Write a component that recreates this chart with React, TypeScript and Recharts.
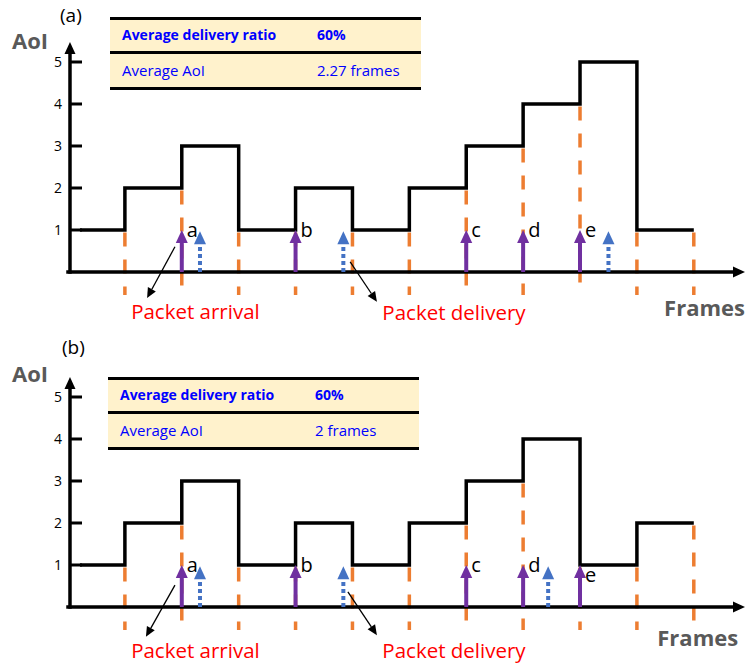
import React from 'react';
import { ComposedChart, Line, XAxis, YAxis, ReferenceLine, ReferenceDot } from 'recharts';

// time axis in frames, AoI per frame
const frameStarts = [0.21, 1, 2, 3, 4, 5, 6, 7, 8, 9, 10];
const frameEnd = 11;
const aoiA = [1, 2, 3, 1, 2, 1, 2, 3, 4, 5, 1];
const aoiB = [1, 2, 3, 1, 2, 1, 2, 3, 4, 1, 2];
const yTicks = [1, 2, 3, 4, 5];
const arrivals = [2, 4, 7, 8, 9];
const arrivalNames = ['a', 'b', 'c', 'd', 'e'];
const deliveriesA = [2.32, 4.84, 9.5];
const deliveriesB = [2.32, 4.84, 8.44];
const tableRows = ['Average delivery ratio', 'Average AoI'];
const tableValsA = ['60%', '2.27 frames'];
const tableValsB = ['60%', '2 frames'];

const W = 745;
const H = 331;
const X_DOMAIN: [number, number] = [0, 11.9];
const Y_DOMAIN: [number, number] = [-1.405, 6.476];
const ORANGE = '#ED7D31';
const PURPLE = '#7030A0';
const BLUE = '#4472C4';
const GREY = '#595959';
const FONT = '"Open Sans", sans-serif';

function YTick(props: any) {
  const { x, y, payload } = props;
  return (
    <g>
      <line x1={x + 7} y1={y} x2={x + 19} y2={y} stroke="#000" strokeWidth={3} />
      <text x={x - 1} y={y} textAnchor="end" dominantBaseline="central" fontSize={14} fontFamily={FONT} fill="#000">
        {payload.value}
      </text>
    </g>
  );
}

function AxisArrow(props: any) {
  const { x1, y1, x2, y2 } = props;
  const ang = Math.atan2(y2 - y1, x2 - x1);
  const len = 12;
  const half = 5.5;
  const bx = x2 - len * Math.cos(ang);
  const by = y2 - len * Math.sin(ang);
  const px = -Math.sin(ang) * half;
  const py = Math.cos(ang) * half;
  return (
    <g>
      <line x1={x1} y1={y1} x2={bx} y2={by} stroke="#000" strokeWidth={3.5} strokeLinecap="square" />
      <polygon points={`${x2},${y2} ${bx + px},${by + py} ${bx - px},${by - py}`} fill="#000" />
    </g>
  );
}

function ThinArrow(props: any) {
  const { x1, y1, x2, y2 } = props;
  const ang = Math.atan2(y2 - y1, x2 - x1);
  const len = 10;
  const half = 4.5;
  const bx = x2 - len * Math.cos(ang);
  const by = y2 - len * Math.sin(ang);
  const px = -Math.sin(ang) * half;
  const py = Math.cos(ang) * half;
  return (
    <g>
      <line x1={x1} y1={y1} x2={bx} y2={by} stroke="#000" strokeWidth={1.3} />
      <polygon points={`${x2},${y2} ${bx + px},${by + py} ${bx - px},${by - py}`} fill="#000" />
    </g>
  );
}

function UpArrow(props: any) {
  const { x1, y1, y2, color, dotted, label, labelDrop } = props;
  const base = Math.max(y1, y2);
  const tip = Math.min(y1, y2);
  const head = 13;
  const half = 6;
  return (
    <g>
      <line
        x1={x1}
        y1={base}
        x2={x1}
        y2={tip + head - 1}
        stroke={color}
        strokeWidth={4}
        strokeDasharray={dotted ? '4 3' : undefined}
      />
      <polygon points={`${x1},${tip} ${x1 - half},${tip + head} ${x1 + half},${tip + head}`} fill={color} />
      {label ? (
        <text x={x1 + 5} y={tip + 7 + (labelDrop || 0)} fontSize={20} fontFamily={FONT} fill="#000">
          {label}
        </text>
      ) : null}
    </g>
  );
}

function Note({ text, color, size, weight, anchor }: any) {
  return (p: any) => (
    <text
      x={p.cx}
      y={p.cy}
      textAnchor={anchor || 'middle'}
      dominantBaseline="central"
      fontSize={size}
      fontWeight={weight || 400}
      fontFamily={FONT}
      fill={color}
    >
      {text}
    </text>
  );
}

function Table({ left, top, values }: any) {
  const lines = [top, top + 34, top + 70];
  return (
    <div style={{ position: 'absolute', left, top: 0, width: 311, height: H, pointerEvents: 'none' }}>
      <div style={{ position: 'absolute', left: 0, top, width: 311, height: 70, background: '#FFF2CC' }} />
      {lines.map((ly) => (
        <div key={ly} style={{ position: 'absolute', left: 0, top: ly - 1.5, width: 311, height: 3, background: '#000' }} />
      ))}
      {tableRows.map((r, i) => {
        const cy = i === 0 ? top + 17 : top + 52;
        const bold = i === 0;
        const fs = bold ? 14 : 15;
        return (
          <React.Fragment key={r}>
            <div style={{ position: 'absolute', left: 12, top: cy - 10, height: 20, lineHeight: '20px', fontSize: fs, fontWeight: bold ? 700 : 400, color: '#0000FF', whiteSpace: 'nowrap' }}>
              {r}
            </div>
            <div style={{ position: 'absolute', left: 207, top: cy - 10, height: 20, lineHeight: '20px', fontSize: fs, fontWeight: bold ? 700 : 400, color: '#0000FF', whiteSpace: 'nowrap' }}>
              {values[i]}
            </div>
          </React.Fragment>
        );
      })}
    </div>
  );
}

function Panel({ aoi, deliveries, tag, values, tagPos, aoiY, tableLeft, tableTop, notes, framesPos, lowLabel }: any) {
  const steps = [...frameStarts.map((x, i) => ({ x, y: aoi[i] })), { x: frameEnd, y: aoi[aoi.length - 1] }];
  // dashed frame boundaries start just under the lower side of each step
  const edges = [...frameStarts.slice(1), frameEnd].map((x, i) => ({
    x,
    top: Math.min(aoi[i], aoi[i + 1] ?? aoi[i]) - 0.06,
  }));

  return (
    <div style={{ position: 'relative', width: W, height: H }}>
      <ComposedChart width={W} height={H} margin={{ top: 0, right: 0, bottom: 0, left: 0 }}>
        <XAxis type="number" dataKey="x" domain={X_DOMAIN} hide allowDataOverflow />
        <YAxis
          type="number"
          domain={Y_DOMAIN}
          ticks={yTicks}
          interval={0}
          width={68}
          axisLine={false}
          tickLine={false}
          tickSize={0}
          tickMargin={5}
          tick={<YTick />}
          allowDataOverflow
        />
        {edges.map((e) => (
          <ReferenceLine
            key={`edge-${e.x}`}
            segment={[{ x: e.x, y: e.top }, { x: e.x, y: -0.55 }]}
            stroke={ORANGE}
            strokeWidth={3.5}
            strokeDasharray="14 13"
            ifOverflow="visible"
          />
        ))}
        <Line
          data={steps}
          dataKey="y"
          type="stepAfter"
          stroke="#000"
          strokeWidth={3.5}
          strokeLinejoin="miter"
          dot={false}
          isAnimationActive={false}
        />
        <ReferenceLine segment={[{ x: 0, y: 0 }, { x: 11.9, y: 0 }]} ifOverflow="visible" shape={(p: any) => <AxisArrow {...p} />} />
        <ReferenceLine segment={[{ x: 0.035, y: 0 }, { x: 0.035, y: 5.476 }]} ifOverflow="visible" shape={(p: any) => <AxisArrow {...p} />} />
        {arrivals.map((x, i) => (
          <ReferenceLine
            key={`arr-${x}`}
            segment={[{ x, y: 0 }, { x, y: 1 }]}
            ifOverflow="visible"
            shape={(p: any) => (
              <UpArrow {...p} color={PURPLE} label={arrivalNames[i]} labelDrop={i === lowLabel ? 10 : 0} />
            )}
          />
        ))}
        {deliveries.map((x: number) => (
          <ReferenceLine
            key={`del-${x}`}
            segment={[{ x, y: 0 }, { x, y: 0.97 }]}
            ifOverflow="visible"
            shape={(p: any) => <UpArrow {...p} color={BLUE} dotted />}
          />
        ))}
        {notes.map((n: any) => (
          <ReferenceLine
            key={n.text}
            segment={[{ x: n.from[0], y: n.from[1] }, { x: n.to[0], y: n.to[1] }]}
            ifOverflow="visible"
            shape={(p: any) => <ThinArrow {...p} />}
          />
        ))}
        {notes.map((n: any) => (
          <ReferenceDot
            key={`t-${n.text}`}
            x={n.at[0]}
            y={n.at[1]}
            r={0}
            ifOverflow="visible"
            shape={Note({ text: n.text, color: '#FF0000', size: 20.5 })}
          />
        ))}
        <ReferenceDot
          x={framesPos[0]}
          y={framesPos[1]}
          r={0}
          ifOverflow="visible"
          shape={Note({ text: 'Frames', color: GREY, size: 22, weight: 700, anchor: 'end' })}
        />
      </ComposedChart>
      <div style={{ position: 'absolute', left: tagPos[0], top: tagPos[1] - 13, height: 26, lineHeight: '26px', fontSize: 19, fontFamily: FONT }}>
        {tag}
      </div>
      <div style={{ position: 'absolute', left: 12, top: aoiY - 14, height: 28, lineHeight: '28px', fontSize: 22, fontWeight: 700, color: GREY, fontFamily: FONT }}>
        AoI
      </div>
      <Table left={tableLeft} top={tableTop} values={values} />
    </div>
  );
}

export default function App() {
  return (
    <div style={{ position: 'absolute', left: 0, top: 0, width: W, height: 666, background: '#fff', fontFamily: FONT, overflow: 'hidden' }}>
      <Panel
        aoi={aoiA}
        deliveries={deliveriesA}
        tag="(a)"
        values={tableValsA}
        tagPos={[60, 15]}
        aoiY={40}
        tableLeft={110}
        tableTop={18}
        framesPos={[11.9, -0.83]}
        lowLabel={-1}
        notes={[
          { text: 'Packet arrival', from: [1.88, 0.6], to: [1.39, -0.62], at: [2.24, -0.93] },
          { text: 'Packet delivery', from: [4.96, 0.24], to: [5.43, -0.71], at: [6.785, -0.95] },
        ]}
      />
      <div style={{ position: 'absolute', left: 0, top: 335 }}>
        <Panel
          aoi={aoiB}
          deliveries={deliveriesB}
          tag="(b)"
          values={tableValsB}
          tagPos={[62, 12]}
          aoiY={38}
          tableLeft={108}
          tableTop={43}
          framesPos={[11.78, -0.71]}
          lowLabel={4}
          notes={[
            { text: 'Packet arrival', from: [1.88, 0.52], to: [1.37, -0.71], at: [2.24, -1.02] },
            { text: 'Packet delivery', from: [4.92, 0.36], to: [5.43, -0.67], at: [6.785, -1.02] },
          ]}
        />
      </div>
    </div>
  );
}
